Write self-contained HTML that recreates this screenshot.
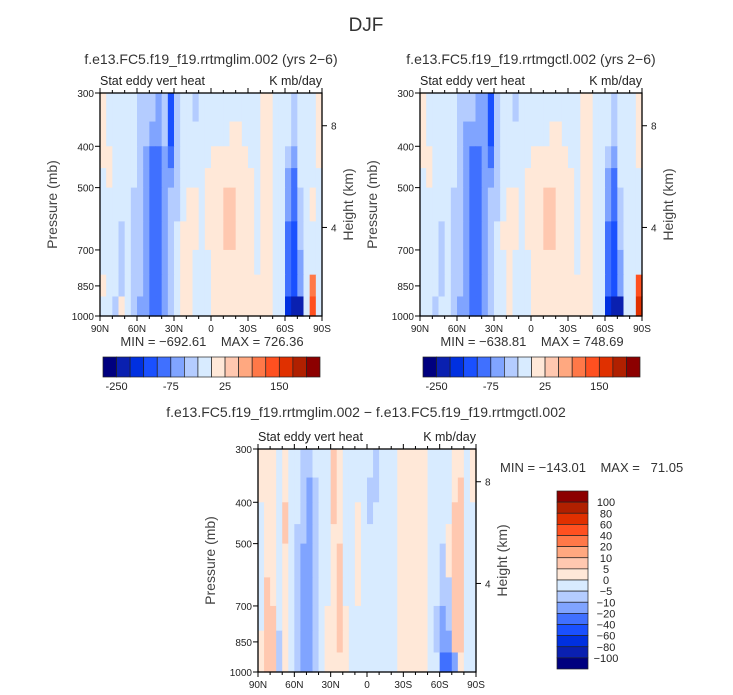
<!DOCTYPE html>
<html><head><meta charset="utf-8">
<style>
body{margin:0;background:#fff;}
svg{display:block;font-family:"Liberation Sans",sans-serif;}
text{white-space:pre;}
</style></head>
<body>
<svg id="root" width="733" height="695" viewBox="0 0 733 695" xmlns="http://www.w3.org/2000/svg">
<text x="366" y="31" font-size="19" text-anchor="middle" fill="#333">DJF</text>
<text x="211" y="64" font-size="14" text-anchor="middle" fill="#333">f.e13.FC5.f19_f19.rrtmglim.002 (yrs 2−6)</text>
<text x="531" y="64" font-size="14" text-anchor="middle" fill="#333">f.e13.FC5.f19_f19.rrtmgctl.002 (yrs 2−6)</text>
<text x="366" y="417" font-size="14" text-anchor="middle" fill="#333">f.e13.FC5.f19_f19.rrtmglim.002 − f.e13.FC5.f19_f19.rrtmgctl.002</text>
<text x="212" y="346" font-size="13" text-anchor="middle" fill="#333" xml:space="preserve">MIN = −692.61    MAX = 726.36</text>
<text x="532" y="346" font-size="13" text-anchor="middle" fill="#333" xml:space="preserve">MIN = −638.81    MAX = 748.69</text>
<text x="500" y="472" font-size="13" fill="#333" xml:space="preserve">MIN = −143.01    MAX =   71.05</text>
<g id="panels"></g>
</svg>
<script>
const palette=["#00007f","#0a20b0","#0030e0","#1a50ff","#4070ff","#80a4ff","#b4ccff","#d8ebff","#ffe8d8","#ffc8b0","#ffa880","#ff7848","#ff5020","#e03000","#b02000","#8c0000"];
const latEdges=[90,85,80,75,70,65,60,55,50,45,40,35,30,25,20,15,10,5,0,-5,-10,-15,-20,-25,-30,-35,-40,-45,-50,-55,-60,-65,-70,-75,-80,-85,-90];
const presEdges=[300,350,400,450,500,600,700,800,900,1000];
const topBarLabels=["-250","-75","25","150"];
const topBarLabelIdx=[1,5,9,13];
const diffBarLabels=["100","80","60","40","20","10","5","0","−5","−10","−20","−40","−60","−80","−100"];
const gridLim=[
[8,7,7,7,7,7,6,6,6,5,6,3,6,7,7,6,7,7,7,7,7,7,7,7,7,7,8,8,7,7,7,6,7,7,7,8],
[8,7,7,7,7,7,6,6,5,5,6,3,6,7,7,7,7,7,7,7,7,8,8,7,7,7,8,8,7,7,7,6,7,7,7,8],
[8,8,7,7,7,7,6,5,4,4,5,4,6,7,7,7,7,7,8,8,8,8,8,8,7,7,8,8,7,7,6,5,7,7,7,8],
[7,8,7,7,7,7,6,5,4,4,5,5,6,7,7,7,7,8,8,8,8,8,8,8,8,7,8,8,7,7,5,4,7,7,7,7],
[7,7,7,7,7,6,6,5,4,4,5,6,6,7,8,8,7,8,8,8,9,9,8,8,8,7,8,8,7,7,5,4,6,7,8,7],
[7,7,7,6,7,6,6,5,4,4,5,6,7,8,8,8,7,8,8,8,9,9,8,8,8,7,8,8,7,7,4,3,6,7,7,7],
[7,7,7,6,7,6,6,5,4,4,5,6,7,8,8,7,7,7,8,8,8,8,8,8,8,7,8,8,7,7,4,3,5,7,7,7],
[8,7,7,6,7,6,6,5,4,4,5,6,7,8,8,7,7,7,8,8,8,8,8,8,8,8,8,8,7,7,4,3,5,7,11,7],
[7,7,6,8,7,6,5,5,4,4,5,6,7,8,8,7,7,7,8,8,8,8,8,8,8,8,8,8,7,7,2,1,1,7,12,7]];
const gridCtl=[
[8,7,7,7,7,7,6,6,6,5,5,3,6,7,7,6,7,7,7,7,7,7,7,7,7,7,8,8,7,7,7,6,7,7,7,8],
[8,7,7,7,7,7,6,5,5,5,5,3,6,7,7,7,7,7,7,7,7,8,8,7,7,7,8,8,7,7,7,6,7,7,7,8],
[8,8,7,7,7,7,6,5,4,4,5,4,6,7,7,7,7,7,8,8,8,8,8,8,7,7,8,8,7,7,6,5,7,7,7,8],
[7,8,7,7,7,7,6,5,4,4,5,5,6,7,7,7,7,8,8,8,8,8,8,8,8,7,8,8,7,7,5,4,7,7,7,7],
[7,7,7,7,7,6,6,5,4,4,5,6,6,7,8,8,7,8,8,8,9,9,8,8,8,7,8,8,7,7,5,4,6,7,7,7],
[7,7,7,6,7,6,6,5,4,4,5,6,7,8,8,8,7,8,8,8,9,9,8,8,8,7,8,8,7,7,4,3,6,7,7,7],
[7,7,7,6,7,6,6,5,4,4,5,6,7,7,8,7,7,7,8,8,8,8,8,8,8,7,8,8,7,7,4,3,5,7,7,7],
[7,7,7,6,7,6,6,5,4,4,5,6,7,7,8,7,7,7,8,8,8,8,8,8,8,8,8,8,7,7,4,3,5,7,7,12],
[7,7,6,7,7,6,5,5,4,4,5,6,7,7,8,7,7,7,8,8,8,8,8,8,8,8,8,8,7,7,2,1,1,7,7,13]];
const gridDiff=[
[8,8,8,7,8,7,7,6,6,7,7,7,9,8,7,7,7,7,7,6,7,7,7,8,8,8,8,8,7,7,7,7,8,8,7,8],
[8,8,8,7,8,7,7,6,5,6,7,7,9,8,7,7,7,7,6,6,7,7,7,8,8,8,8,8,7,7,7,7,8,9,7,8],
[7,8,8,7,9,7,7,6,5,6,7,7,9,8,7,7,8,7,6,7,7,7,7,8,8,8,8,8,7,7,7,7,9,9,7,7],
[7,8,8,7,9,7,6,6,5,6,7,7,8,8,7,7,8,7,7,7,7,7,7,8,8,8,8,8,7,7,7,8,9,9,7,7],
[7,8,8,7,8,7,6,5,5,6,7,7,8,9,7,7,8,7,7,7,7,7,7,8,8,8,8,8,7,7,6,8,9,9,7,7],
[7,9,8,7,8,7,6,5,5,6,7,7,8,9,7,7,8,7,7,7,7,7,7,8,8,8,8,8,7,7,6,6,9,9,7,7],
[7,9,9,7,8,7,6,5,5,6,7,8,8,9,8,7,7,7,7,7,7,7,7,8,8,8,8,8,7,6,5,6,9,9,7,7],
[8,9,9,6,8,7,6,5,5,6,7,8,8,9,8,7,7,7,7,7,7,7,7,8,8,8,8,8,7,6,5,5,9,9,7,7],
[8,9,9,6,8,7,6,5,5,6,7,8,8,8,8,7,7,7,7,7,7,7,7,8,8,8,8,8,7,7,4,4,5,8,7,7]];
const presTicks=[300,400,500,700,850,1000];
const latTicks=[90,60,30,0,-30,-60,-90];
const latTickLabels=["90N","60N","30N","0","30S","60S","90S"];
const heightTicks=[8,4];
const heightTickPres=[358,620];

const NS="http://www.w3.org/2000/svg";
const root=document.getElementById('panels');
function mk(tag,attrs,parent){const e=document.createElementNS(NS,tag);for(const k in attrs)e.setAttribute(k,attrs[k]);parent.appendChild(e);return e;}
function txt(s,attrs,parent){const e=mk('text',attrs,parent);e.textContent=s;return e;}

function panel(name,ox,oy,w,h,grid){
  const g=mk('g',{},root);
  
  
  const xs=lat=>ox+w*(90-lat)/180;
  const ys=p=>oy+h*Math.log(p/300)/Math.log(1000/300);
  for(let r=0;r<grid.length;r++){
    for(let c=0;c<grid[r].length;c++){
      const x0=xs(latEdges[c]),x1=xs(latEdges[c+1]),y0=ys(presEdges[r]),y1=ys(presEdges[r+1]);
      const cell=mk('rect',{x:x0,y:y0,width:x1-x0+0.6,height:y1-y0+0.6,fill:palette[grid[r][c]]},g);
      
      
    }
  }
  const fr=mk('rect',{x:ox,y:oy,width:w,height:h,fill:'none',stroke:'#000','stroke-width':1.3},g);
  
  
  for(let lat=90;lat>=-90;lat-=10){
    const x=xs(lat);const major=(lat%30===0);
    mk('line',{x1:x,x2:x,y1:oy+h,y2:oy+h+(major?5:3),stroke:'#000'},g);
    mk('line',{x1:x,x2:x,y1:oy,y2:oy-(major?5:3),stroke:'#000'},g);
  }
  latTicks.forEach((lat,i)=>{
    const t=txt(latTickLabels[i],{x:xs(lat),y:oy+h+16,'font-size':10,'text-anchor':'middle',fill:'#222'},g);
    
    
  });
  presTicks.forEach(p=>{
    const y=ys(p);
    mk('line',{x1:ox-5,x2:ox,y1:y,y2:y,stroke:'#000'},g);
    const t=txt(String(p),{x:ox-6,y:y+4,'font-size':10,'text-anchor':'end',fill:'#222'},g);
    
    
  });
  heightTicks.forEach((k,i)=>{
    const y=ys(heightTickPres[i]);
    mk('line',{x1:ox+w,x2:ox+w+5,y1:y,y2:y,stroke:'#000'},g);
    const t=txt(String(k),{x:ox+w+9,y:y+4,'font-size':10,fill:'#222'},g);
    
    
  });
  const yt=txt('Pressure (mb)',{x:0,y:0,'font-size':14,'text-anchor':'middle',fill:'#444',transform:`translate(${ox-43},${oy+h/2}) rotate(-90)`},g);
  
  
  const ht=txt('Height (km)',{x:0,y:0,'font-size':14,'text-anchor':'middle',fill:'#444',transform:`translate(${ox+w+31},${oy+h/2}) rotate(-90)`},g);
  
  
  const s1=txt('Stat eddy vert heat',{x:ox,y:oy-8,'font-size':12.5,fill:'#222'},g);
  
  
  const s2=txt('K mb/day',{x:ox+w,y:oy-8,'font-size':12.5,'text-anchor':'end',fill:'#222'},g);
  
  
}
panel('left-panel',100,93,222,223,gridLim);
panel('right-panel',420,93,222,223,gridCtl);
panel('diff-panel',258,449,218,223,gridDiff);

function hbar(name,x0,y0,w,h){
  const g=mk('g',{},root);
  
  
  const bw=w/palette.length;
  palette.forEach((c,i)=>{
    const r=mk('rect',{x:x0+i*bw,y:y0,width:bw,height:h,fill:c,stroke:'#222','stroke-width':0.7},g);
    
    
  });
  topBarLabels.forEach((l,i)=>{
    const t=txt(l,{x:x0+topBarLabelIdx[i]*bw,y:y0+h+13,'font-size':11,'text-anchor':'middle',fill:'#222'},g);
    
    
  });
}
hbar('left-colorbar',103,357,217,20);
hbar('right-colorbar',423,357,217,20);

(function(){
  const x0=557,y0=491,w=31,h=178;
  const g=mk('g',{},root);
  
  
  const bh=h/palette.length;
  for(let i=0;i<palette.length;i++){
    const r=mk('rect',{x:x0,y:y0+i*bh,width:w,height:bh,fill:palette[palette.length-1-i],stroke:'#222','stroke-width':0.7},g);
    
    
  }
  diffBarLabels.forEach((l,i)=>{
    const t=txt(l,{x:606,y:y0+(i+1)*bh+4,'font-size':11,'text-anchor':'middle',fill:'#222'},g);
    
    
  });
})();
</script>
</body></html>
